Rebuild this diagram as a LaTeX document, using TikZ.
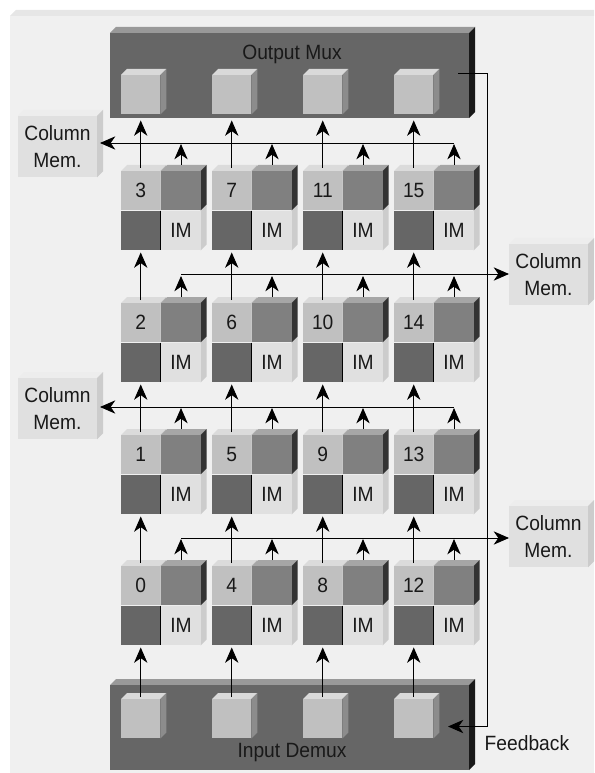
\documentclass[tikz,border=0pt]{standalone}
\usepackage{fontspec}
\usepackage{xcolor}
\usetikzlibrary{arrows.meta,positioning,calc}
\setmainfont[FakeStretch=0.93]{Liberation Sans}
\definecolor{figpanel}{HTML}{F0F0F0}
\definecolor{figpanelt}{HTML}{E6E6E6}
\definecolor{figdark}{HTML}{666666}
\definecolor{figmid}{HTML}{808080}
\definecolor{figgrey}{HTML}{C0C0C0}
\definecolor{figpale}{HTML}{E0E0E0}

\begin{document}
\begin{tikzpicture}[
  x=0.75pt,y=-0.75pt,
  node distance=0.6pt and 0.6pt,
  >={Stealth[length=11.5pt,width=10pt,inset=3.5pt]},
  txt/.style={text=black!90,font=\fontsize{15.5}{20}\selectfont,align=center},
  cube/.style n args={3}{txt,inner sep=0pt,outer sep=0pt,fill=#1,
    append after command={\pgfextra{
      \fill[#2] (\tikzlastnode.north west) -- ++(6,-6) -- ($(\tikzlastnode.north east)+(6,-6)$)
        -- (\tikzlastnode.north east) -- cycle;
      \fill[#3] (\tikzlastnode.north east) -- ++(6,-6) -- ($(\tikzlastnode.south east)+(6,-6)$)
        -- (\tikzlastnode.south east) -- cycle;
    }}},
  cell/.style={minimum width=29.6pt,minimum height=29.6pt},
  numcell/.style={cell,cube={figgrey}{black!14}{black!30}},
  pecell/.style={cell,cube={figmid}{black!35}{black!80}},
  regcell/.style={cell,txt,inner sep=0pt,outer sep=0pt,fill=figdark,
    append after command={\pgfextra{
      \draw[black,line width=0.6pt] (\tikzlastnode.north east) -- (\tikzlastnode.south east);
      \draw[black!45,line width=0.6pt] (\tikzlastnode.north west) -- (\tikzlastnode.north east);
    }}},
  imcell/.style={cell,cube={figpale}{black!7}{black!20}},
  portcube/.style={cell,cube={figgrey}{black!15}{black!45}},
  muxbox/.style={minimum width=269.25pt,minimum height=63.75pt,cube={figdark}{black!40}{black!90}},
  colmem/.style={minimum width=59.25pt,minimum height=46pt,cube={figpale}{black!7}{black!20}},
  flow/.style={->,black,line width=0.7pt},
  bus/.style={flow}
]
\useasboundingbox (0,0) rectangle (594,773);
\fill[figpanel] (10,16) rectangle (594,773);
\fill[figpanelt] (10,16) -- (16,10) -- (594,10) -- (594,16) -- cycle;

% muxes at top and bottom
\node[muxbox,anchor=north west] (omux) at (110,33) {};
\node[muxbox,anchor=north west] (idemux) at (110,685) {};
\node[txt] (omuxtxt) at (292,54) {Output Mux};
\node[txt] (idemuxtxt) at (292,753) {Input Demux};

% column memories
\node[colmem,anchor=north west] (cm3) at (18,116) {Column\\Mem.};
\node[colmem,anchor=north west] (cm2) at (509,244) {Column\\Mem.};
\node[colmem,anchor=north west] (cm1) at (18,378) {Column\\Mem.};
\node[colmem,anchor=north west] (cm0) at (509,506) {Column\\Mem.};

% the 4x4 array
\foreach \c/\x in {0/121,1/212,2/303,3/394}{
  \node[portcube,anchor=north west] (out\c) at (\x,75) {};
  \node[portcube,anchor=north west] (in\c) at (\x,699) {};
  \foreach \r/\y in {3/171,2/303,1/435,0/566}{
    \pgfmathtruncatemacro{\i}{4*\c+\r}
    \node[regcell,anchor=north west] (reg\i) at (\x,\y+40) {};
    \node[imcell,right=of reg\i] (im\i) {IM};
    \node[numcell,anchor=north west] (num\i) at (\x,\y) {\i};
    \node[pecell,right=of num\i] (pe\i) {};
  }
}

% vertical flow through each column
\foreach \c in {0,1,2,3}{
  \pgfmathtruncatemacro{\a}{4*\c}
  \pgfmathtruncatemacro{\b}{4*\c+1}
  \pgfmathtruncatemacro{\d}{4*\c+2}
  \pgfmathtruncatemacro{\e}{4*\c+3}
  \draw[flow] ([shift={(0,-2)}]in\c.north) -- ([shift={(0,2)}]reg\a.south);
  \draw[flow] ([shift={(0,-3)}]num\a.north) -- ([shift={(0,2)}]reg\b.south);
  \draw[flow] ([shift={(0,-3)}]num\b.north) -- ([shift={(0,2)}]reg\d.south);
  \draw[flow] ([shift={(0,-3)}]num\d.north) -- ([shift={(0,2)}]reg\e.south);
  \draw[flow] ([shift={(0,-3)}]num\e.north) -- ([shift={(0,6)}]out\c.south);
  \foreach \i in {\a,\b,\d,\e}
    \draw[flow] ([shift={(0,-6)}]pe\i.north) -- ([shift={(0,-27)}]pe\i.north);
}

% buses to the column memories
\coordinate (bus3) at ([shift={(0,-28)}]pe15.north);
\coordinate (bus2) at ([shift={(0,-29)}]pe2.north);
\coordinate (bus1) at ([shift={(0,-28)}]pe13.north);
\coordinate (bus0) at ([shift={(0,-28)}]pe0.north);
\coordinate (tip3) at ([shift={(3,0)}]cm3.east);
\coordinate (tip1) at ([shift={(3,0)}]cm1.east);
\draw[bus] (bus3) -- (bus3 -| tip3);
\draw[bus] (bus2) -- (bus2 -| cm2.west);
\draw[bus] (bus1) -- (bus1 -| tip1);
\draw[bus] (bus0) -- (bus0 -| cm0.west);

% feedback
\coordinate (fbout) at ([shift={(-11,-2.5)}]omux.east);
\coordinate (fbin) at ([shift={(-21,-1)}]idemux.east);
\draw[flow] (fbout) -- ++(29,0) |- (fbin);
\node[txt,anchor=west] (fbtxt) at (480,743) {Feedback};
\end{tikzpicture}
\end{document}
